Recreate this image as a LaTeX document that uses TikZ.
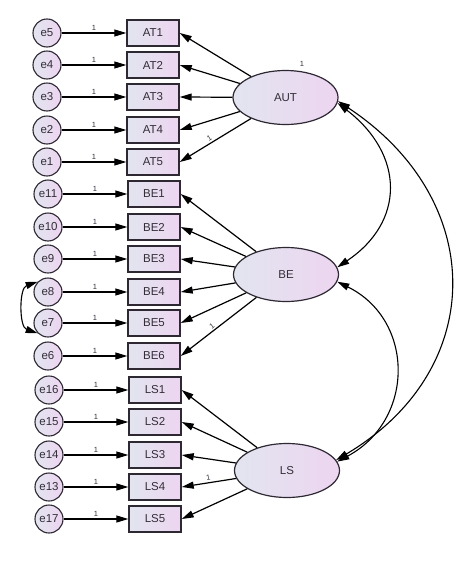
\documentclass[tikz,border=0pt]{standalone}
\usepackage{fontspec}
\setmainfont{Liberation Sans}
\usetikzlibrary{arrows.meta,shapes.geometric}
\definecolor{fl}{RGB}{226,229,240}
\definecolor{fr}{RGB}{237,213,240}
\definecolor{bd}{RGB}{45,40,50}
\definecolor{tx}{RGB}{50,45,55}
\begin{document}
\begin{tikzpicture}[x=1pt,y=-1pt,
 latent/.style={ellipse,draw=bd,line width=1.2pt,left color=fl,right color=fr,minimum width=105pt,minimum height=54pt,inner sep=0pt,font=\fontsize{11.5}{13}\selectfont,text=tx},
 obs/.style={rectangle,draw=bd,line width=1.4pt,left color=fl,right color=fr,minimum width=52pt,minimum height=26pt,inner sep=0pt,font=\fontsize{11.5}{13}\selectfont,text=tx},
 err/.style={circle,draw=bd,line width=1.1pt,left color=fl,right color=fr,minimum size=28pt,inner sep=0pt,font=\fontsize{11.5}{13}\selectfont,text=tx},
 tip/.tip={Triangle[length=12pt,width=7pt]},
 arr/.style={-tip,line width=1.2pt,black},
 darr/.style={tip-tip,line width=1.1pt,black},
 one/.style={font=\fontsize{7.5}{8}\selectfont,text=tx,inner sep=1.5pt}
]
\useasboundingbox (0,0) rectangle (474,568);
% latent variables
\node[latent] (aut) at (285.5,97.5) {AUT};
\node[latent] (be) at (286,274.5) {BE};
\node[latent] (ls) at (287,470.5) {LS};
\node[one] (autv) at (302,64) {1};
% AUT block
\foreach \n/\e/\y in {AT1/e5/33,AT2/e4/65,AT3/e3/97,AT4/e2/130,AT5/e1/162}{
  \node[obs] (\n) at (153,\y) {\n};
  \node[err] (\e) at (47,\y) {\e};
  \draw[arr] (\e) -- node[one,above]{1} (\n);
}
\foreach \n/\e/\y in {BE1/e11/194,BE2/e10/227,BE3/e9/259,BE4/e8/292,BE5/e7/323,BE6/e6/356}{
  \node[obs] (\n) at (154,\y) {\n};
  \node[err] (\e) at (48,\y) {\e};
  \draw[arr] (\e) -- node[one,above]{1} (\n);
}
\foreach \n/\e/\y in {LS1/e16/390,LS2/e15/422,LS3/e14/455,LS4/e13/487,LS5/e17/519}{
  \node[obs] (\n) at (155,\y) {\n};
  \node[err] (\e) at (49,\y) {\e};
  \draw[arr] (\e) -- node[one,above]{1} (\n);
}
% loadings
\foreach \n in {AT1,AT2,AT3,AT4}{\draw[arr] (aut) -- (\n.east);}
\draw[arr] (aut) -- node[one,pos=0.55,sloped,above]{1} (AT5.east);
\foreach \n in {BE1,BE2,BE3,BE4,BE5}{\draw[arr] (be) -- (\n.east);}
\draw[arr] (be) -- node[one,pos=0.55,sloped,above]{1} (BE6.east);
\foreach \n in {LS1,LS2,LS3,LS5}{\draw[arr] (ls) -- (\n.east);}
\draw[arr] (ls) -- node[one,pos=0.5,sloped,above]{1} (LS4.east);
% covariances
\draw[darr] (aut.-6) .. controls (405,155) and (405,222) .. (be.8);
\draw[darr] (aut.-4) .. controls (488,200) and (488,370) .. (ls.12);
\draw[darr] (be.-8) .. controls (415,320) and (415,420) .. (ls.10);
\draw[darr] (e8.135) .. controls (19,288) and (19,327) .. (e7.225);
\end{tikzpicture}
\end{document}
